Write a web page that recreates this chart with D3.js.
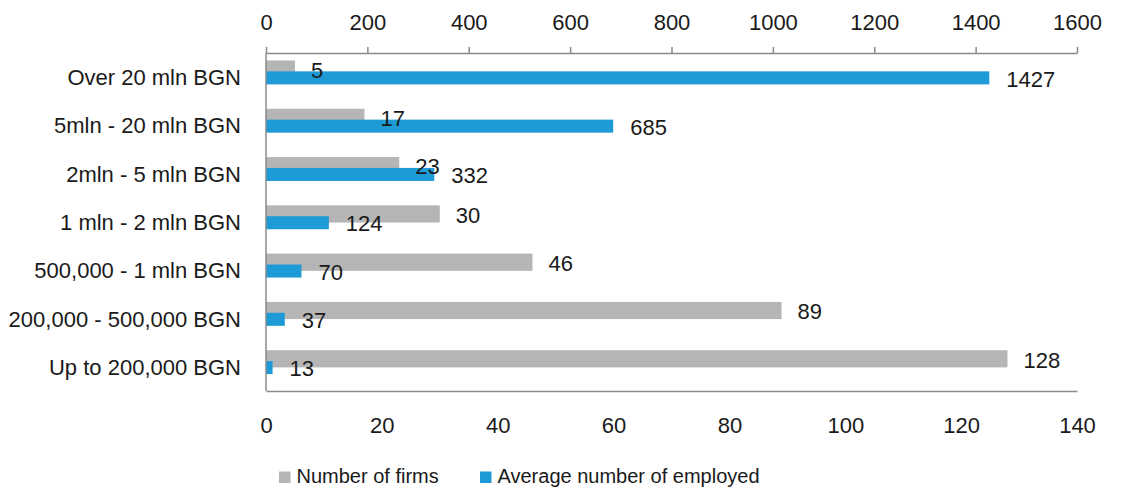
<!DOCTYPE html>
<html>
<head>
<meta charset="utf-8">
<script src="https://cdn.jsdelivr.net/npm/d3@7"></script>
<style>
  body { margin: 0; background: #fff; }
  svg { display: block; font-family: "Liberation Sans", Arial, sans-serif; }
</style>
</head>
<body>
<svg id="chart" width="1121" height="491"></svg>
<script>
const categories = ["Over 20 mln BGN", "5mln - 20 mln BGN", "2mln - 5 mln BGN", "1 mln - 2 mln BGN",
  "500,000 - 1 mln BGN", "200,000 - 500,000 BGN", "Up to 200,000 BGN"];
const firms = [5, 17, 23, 30, 46, 89, 128];
const employed = [1427, 685, 332, 124, 70, 37, 13];
const topTicks = [0, 200, 400, 600, 800, 1000, 1200, 1400, 1600];
const bottomTicks = [0, 20, 40, 60, 80, 100, 120, 140];
const seriesNames = ["Number of firms", "Average number of employed"];

const colGray = "#b5b5b6", colBlue = "#1e9ad6", axisCol = "#8a8a8a", textCol = "#1a1a1a";
const svg = d3.select("#chart");
const L = 266, R = 1077, T = 53, B = 391;

const y = d3.scaleBand().domain(categories).range([T, B]).paddingInner(0).paddingOuter(0);
const xF = d3.scaleLinear().domain([0, 140]).range([L, R]);
const xE = d3.scaleLinear().domain([0, 1600]).range([L, R]);
const bw = y.bandwidth();

const rows = categories.map((c, i) => ({ c, f: firms[i], e: employed[i] }));

// gray bars (firms)
svg.append("g").selectAll("rect").data(rows).join("rect")
  .attr("x", xF(0)).attr("y", d => y(d.c) + 0.155 * bw)
  .attr("width", d => xF(d.f) - xF(0)).attr("height", 0.356 * bw)
  .attr("fill", colGray);
// blue bars (employed)
svg.append("g").selectAll("rect").data(rows).join("rect")
  .attr("x", xE(0)).attr("y", d => y(d.c) + 0.38 * bw)
  .attr("width", d => xE(d.e) - xE(0)).attr("height", 0.27 * bw)
  .attr("fill", colBlue);

// top axis
const gTop = svg.append("g").attr("transform", `translate(0,${T})`)
  .call(d3.axisTop(xE).tickValues(topTicks).tickSizeInner(6).tickSizeOuter(0).tickPadding(17).tickFormat(d3.format("d")));
gTop.select(".domain").attr("stroke", axisCol).attr("stroke-width", 1.5);
gTop.selectAll(".tick line").attr("stroke", axisCol).attr("stroke-width", 1.5);
gTop.selectAll("text").attr("fill", textCol).style("font-size", "22px").style("font-family", "'Liberation Sans', Arial, sans-serif");

// bottom axis
const gBot = svg.append("g").attr("transform", `translate(0,${B})`)
  .call(d3.axisBottom(xF).tickValues(bottomTicks).tickSizeInner(0).tickSizeOuter(0).tickPadding(26).tickFormat(d3.format("d")));
gBot.select(".domain").attr("stroke", axisCol).attr("stroke-width", 1.5);
gBot.selectAll("text").attr("fill", textCol).style("font-size", "22px").style("font-family", "'Liberation Sans', Arial, sans-serif");

// left axis line
svg.append("line").attr("x1", L).attr("x2", L).attr("y1", T).attr("y2", B)
  .attr("stroke", axisCol).attr("stroke-width", 1.5);

// category labels
svg.append("g").selectAll("text").data(categories).join("text")
  .attr("x", 241).attr("y", d => y(d) + bw / 2 + 8)
  .attr("text-anchor", "end").attr("fill", textCol).style("font-size", "22px")
  .text(d => d);

// value labels
svg.append("g").selectAll("text").data(rows).join("text")
  .attr("x", d => xF(d.f) + 16).attr("y", d => y(d.c) + 0.35 * bw + 8)
  .attr("fill", textCol).style("font-size", "22px").text(d => d.f);
svg.append("g").selectAll("text").data(rows).join("text")
  .attr("x", d => xE(d.e) + 17).attr("y", d => y(d.c) + 0.53 * bw + 8)
  .attr("fill", textCol).style("font-size", "22px").text(d => d.e);

// legend
const leg = [{ name: seriesNames[0], col: colGray, x: 279 }, { name: seriesNames[1], col: colBlue, x: 480 }];
const lg = svg.append("g").selectAll("g").data(leg).join("g")
  .attr("transform", d => `translate(${d.x},471.5)`);
lg.append("rect").attr("width", 11.5).attr("height", 11.5).attr("fill", d => d.col);
lg.append("text").attr("x", 17.5).attr("y", 11).attr("fill", textCol)
  .style("font-size", "20px").text(d => d.name);
</script>
</body>
</html>
